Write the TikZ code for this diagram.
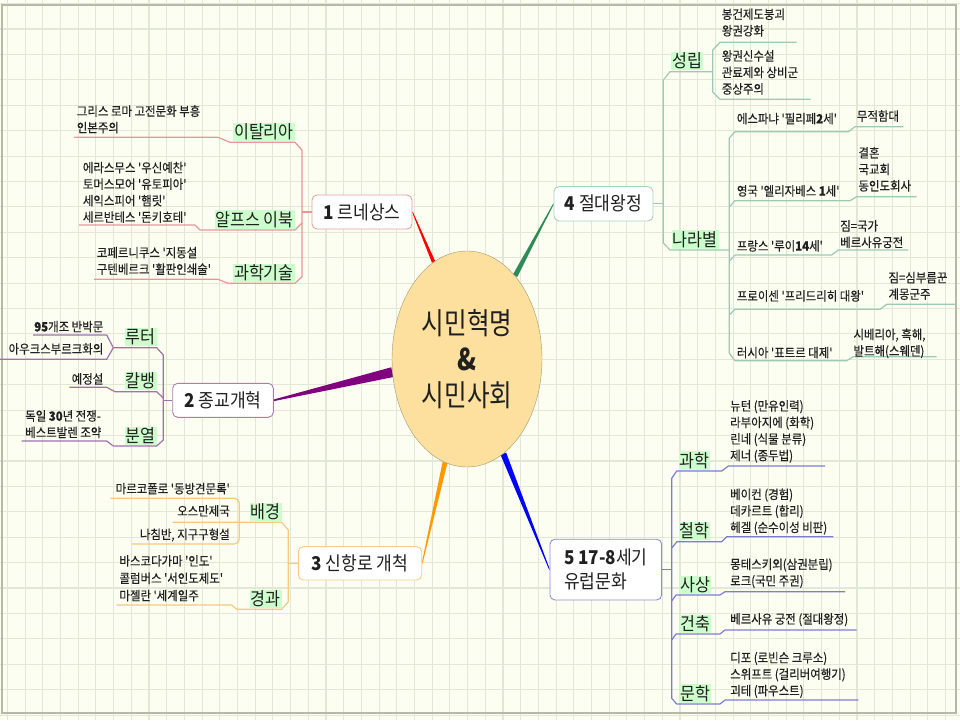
\documentclass[tikz,border=0pt]{standalone}
\usepackage{fontspec}
\newfontfamily\kr[FakeStretch=0.9,Ligatures=TeXOff]{Noto Sans CJK KR}
\newfontfamily\krleaf[FakeStretch=0.9,FakeBold=0.3,Ligatures=TeXOff]{Noto Sans CJK KR}
\newfontfamily\krbig[FakeStretch=0.82,Ligatures=TeXOff]{Noto Sans CJK KR}
\usetikzlibrary{shapes.geometric,calc}
\pgfdeclarelayer{bg}
\pgfdeclarelayer{mid}
\pgfsetlayers{bg,mid,main}

\definecolor{paper}{HTML}{FDFEF2}
\definecolor{gridc}{HTML}{E3E8D6}
\definecolor{framec}{HTML}{B5B9A6}
\definecolor{hl}{HTML}{CCFFCC}
\definecolor{ctrfill}{HTML}{FDE09E}
\definecolor{ctrline}{HTML}{A09870}
\definecolor{ink}{HTML}{202020}
\definecolor{c1}{HTML}{E5A0A0}\definecolor{ln1}{HTML}{E8969A}
\definecolor{c2}{HTML}{A87CB8}\definecolor{ln2}{HTML}{A070B0}
\definecolor{c3}{HTML}{F5CE8C}\definecolor{ln3}{HTML}{F6C880}
\definecolor{c4}{HTML}{A8D2BE}\definecolor{ln4}{HTML}{9CCAB4}
\definecolor{c5}{HTML}{8C8CE0}\definecolor{ln5}{HTML}{7C7CD4}
\definecolor{sp1}{HTML}{FF0000}
\definecolor{sp2}{HTML}{800080}
\definecolor{sp3}{HTML}{FF9900}
\definecolor{sp4}{HTML}{2E8B57}
\definecolor{sp5}{HTML}{0000FF}

% tapered spoke: from, to, half width at start, half width at end, colour
\newcommand{\spoke}[5]{%
  \fill[#5] ($(#1)!#3!90:(#2)$) -- ($(#2)!#4!-90:(#1)$) -- ($(#2)!#4!90:(#1)$) -- ($(#1)!#3!-90:(#2)$) -- cycle;}

\begin{document}
\begin{tikzpicture}[x=1pt,y=-1pt,text=ink,
 topic/.style={draw,rounded corners=5pt,fill=white,line width=.9pt,inner sep=0pt,font=\kr\fontsize{19}{23}\selectfont},
 sub/.style={fill=hl,inner xsep=1pt,inner ysep=1pt,font=\kr\fontsize{18}{20}\selectfont},
 leaf/.style={inner sep=0pt,align=left,font=\krleaf\fontsize{12.7}{16.5}\selectfont},
 br/.style={line width=1.2pt,line join=round}]
\useasboundingbox (0,0) rectangle (960,720);

\begin{pgfonlayer}{bg}
 \fill[paper] (0,0) rectangle (960,720);
 \foreach \i in {0,...,54} \draw[gridc,line width=1.1pt] ({7.4+17.7*\i},0) -- ({7.4+17.7*\i},720);
 \foreach \j in {0,...,28} \draw[gridc,line width=1.1pt] (0,{3.6+25.41*\j}) -- (960,{3.6+25.41*\j});
 \draw[framec,line width=1.2pt] (2,5) rectangle (956,713);
\end{pgfonlayer}

% centre and main topics
\node[ellipse,draw=ctrline,fill=ctrfill,minimum width=150pt,minimum height=216pt,inner sep=0pt,
  align=center,font=\krbig\fontsize{30}{36}\selectfont] (ctr) at (467,359) {시민혁명\\\textbf{\&}\\시민사회};
\node[topic,draw=c1,minimum width=100pt,minimum height=34pt] (ren) at (362,212) {\textbf{1} 르네상스};
\node[topic,draw=c2,minimum width=100.6pt,minimum height=34pt] (rel) at (223,400.3) {\textbf{2} 종교개혁};
\node[topic,draw=c3,minimum width=123.4pt,minimum height=33.3pt] (nav) at (360,563.3) {\textbf{3} 신항로 개척};
\node[topic,draw=c4,minimum width=99pt,minimum height=34.3pt] (abs) at (603.5,203.8) {\textbf{4} 절대왕정};
\node[topic,draw=c5,minimum width=111.7pt,minimum height=60.7pt,align=left,
  font=\kr\fontsize{19}{24}\selectfont] (cul) at (605.8,569.6) {\textbf{5 17-8}세기\\유럽문화};

\begin{pgfonlayer}{mid}
 \spoke{ren.east}{ctr.109}{.4pt}{1.8pt}{sp1}
 \spoke{rel.east}{ctr.190}{.8pt}{5pt}{sp2}
 \spoke{nav.east}{ctr.258}{.4pt}{2.5pt}{sp3}
 \spoke{abs.west}{ctr.60}{.4pt}{2.5pt}{sp4}
 \spoke{cul.west}{ctr.291}{.4pt}{3pt}{sp5}
\end{pgfonlayer}

% 1 르네상스
\draw[br,ln1] (230,142.3) -- (295,142.3) -- (302,150) -- (302,276.7) -- (295,283.3) -- (228,283.3);
\draw[br,ln1] (ren.west) -- (302,212);
\draw[br,ln1] (74,137.3) -- (218,137.3) -- (230,142.3);
\draw[br,ln1] (79,225) -- (195,225) -- (200,230) -- (295,230) -- (302,223);
\draw[br,ln1] (94,279.3) -- (218,279.3) -- (228,283.3);
\node[sub,anchor=south east] (ital) at (295,141.5) {이탈리아};
\node[sub,anchor=south east] (alps) at (295,229) {알프스 이북};
\node[sub,anchor=south east] (tech) at (295,282.5) {과학기술};
\node[leaf,anchor=north west] (ital1) at (76.7,105) {그리스 로마 고전문화 부흥\\인본주의};
\node[leaf,anchor=north west] (alps1) at (82.7,161.7) {에라스무스 '우신예찬'\\토머스모어 '유토피아'\\세익스피어 '햄릿'\\세르반테스 '돈키호테'};
\node[leaf,anchor=north west] (tech1) at (96.7,246.7) {코페르니쿠스 '지동설\\구텐베르크 '활판인쇄술'};

% 2 종교개혁
\draw[br,ln2] (113.3,347.7) -- (156.7,347.7) -- (163.3,355) -- (163.3,440) -- (156.7,446) -- (113.3,446);
\draw[br,ln2] (rel.west) -- (163.3,400.3);
\draw[br,ln2] (33,335) -- (106.7,335) -- (113.3,347.7) -- (106.7,359.3) -- (0,359.3);
\draw[br,ln2] (69.3,387.3) -- (106.7,387.3) -- (115,391.7) -- (156.7,391.7) -- (163.3,398);
\draw[br,ln2] (21.7,441) -- (106.7,441) -- (113.3,446);
\node[sub,anchor=south east] (luth) at (156.7,346.5) {루터};
\node[sub,anchor=south east] (calv) at (156.7,390.5) {칼뱅};
\node[sub,anchor=south east] (split) at (156.7,445) {분열};
\node[leaf,anchor=north east] (luth1) at (103.5,320.7) {\textbf{95}개조 반박문};
\node[leaf,anchor=north east] (luth2) at (103.5,343) {아우크스부르크화의};
\node[leaf,anchor=north east] (calv1) at (103.5,373) {예정설};
\node[leaf,anchor=north west] (split1) at (25,410) {독일 \textbf{30}년 전쟁-\\베스트발렌 조약};

% 3 신항로 개척
\draw[br,ln3] (236.7,609.3) -- (281.7,609.3) -- (288.3,601.7) -- (288.3,530) -- (281.7,522.3) -- (172.7,522.3);
\draw[br,ln3] (nav.west) -- (288.3,563.3);
\draw[br,ln3,rounded corners=5pt] (110.7,498.3) -- (239.3,498.3) -- (239.3,544) -- (131.7,544);
\draw[br,ln3] (116.7,605) -- (231.7,605) -- (236.7,609.3);
\node[sub,anchor=south east] (back) at (281.7,521.5) {배경};
\node[sub,anchor=south east] (course) at (281.7,608.5) {경과};
\node[leaf,anchor=north east] (back1) at (230,482.7) {마르코폴로 '동방견문록'};
\node[leaf,anchor=north east] (back2) at (230,505) {오스만제국};
\node[leaf,anchor=north east] (back3) at (230,528.3) {나침반, 지구구형설};
\node[leaf,anchor=north west,font=\krleaf\fontsize{12.7}{17.3}\selectfont] (course1) at (119.3,555) {바스코다가마 '인도'\\콜럼버스 '서인도제도'\\마젤란 '세계일주};

% 4 절대왕정
\draw[br,ln4] (712.7,71.7) -- (670,71.7) -- (663.3,80) -- (663.3,243) -- (670,250) -- (729.3,250);
\draw[br,ln4] (abs.east) -- (663.3,203.8);
\draw[br,ln4] (796.7,42.3) -- (720,42.3) -- (712.7,50) -- (712.7,92) -- (720,99.3) -- (810.7,99.3);
\draw[br,ln4] (903.3,126.7) -- (855,126.7) -- (848.3,131.7) -- (735,131.7) -- (729.3,138) -- (729.3,353.3) -- (735,360.7) -- (846.7,360.7) -- (853.3,356.7) -- (936.7,356.7);
\draw[br,ln4] (729.3,207) -- (735,200.7) -- (850,200.7) -- (856.7,196.7) -- (916.7,196.7);
\draw[br,ln4] (729.3,261) -- (735,255) -- (831.7,255) -- (838.3,250) -- (908.3,250);
\draw[br,ln4] (729.3,315) -- (735,309.3) -- (880,309.3) -- (886.7,304.3) -- (956.7,304.3);
\node[sub,anchor=south west] (rise) at (671,70.5) {성립};
\node[sub,anchor=south west] (land) at (671.7,249) {나라별};
\node[leaf,anchor=north west] (rise1) at (721.7,8.3) {봉건제도붕괴\\왕권강화};
\node[leaf,anchor=north west] (rise2) at (721.7,50) {왕권신수설\\관료제와 상비군\\중상주의};
\node[leaf,anchor=north west] (spa) at (736.7,112.7) {에스파냐 '필리페\textbf{2}세'};
\node[leaf,anchor=north west] (spa1) at (856.7,110) {무적함대};
\node[leaf,anchor=north west] (eng) at (736.7,185) {영국 '엘리자베스 \textbf{1}세'};
\node[leaf,anchor=north west] (eng1) at (858.3,146.7) {결혼\\국교회\\동인도회사};
\node[leaf,anchor=north west] (fra) at (736.7,240) {프랑스 '루이\textbf{14}세'};
\node[leaf,anchor=north west] (fra1) at (840,220) {짐=국가\\베르사유궁전};
\node[leaf,anchor=north west] (pru) at (736.7,290) {프로이센 '프리드리히 대왕'};
\node[leaf,anchor=north west] (pru1) at (888.3,271.7) {짐=심부름꾼\\계몽군주};
\node[leaf,anchor=north west] (rus) at (736.7,346.7) {러시아 '표트르 대제'};
\node[leaf,anchor=north west] (rus1) at (853.3,328.3) {시베리아, 흑해,\\발트해(스웨덴)};

% 5 17-8세기 유럽문화
\draw[br,ln5] (825,466) -- (728.3,466) -- (721.7,471) -- (676.7,471) -- (671.7,478.3) -- (671.7,698.3) -- (676.7,704) -- (720,704) -- (725,700) -- (858.3,700);
\draw[br,ln5] (cul.east) -- (671.7,569.6);
\draw[br,ln5] (671.7,548) -- (677,541.7) -- (721.7,541.7) -- (726.7,536.7) -- (833.3,536.7);
\draw[br,ln5] (671.7,601) -- (676,595) -- (720,595) -- (725,591.7) -- (845,591.7);
\draw[br,ln5] (671.7,640) -- (676,634) -- (720,634) -- (725,630) -- (856.7,630);
\node[sub,anchor=south west] (sci) at (678.3,470) {과학};
\node[sub,anchor=south west] (phil) at (678.3,540.5) {철학};
\node[sub,anchor=south west] (thou) at (679.3,594) {사상};
\node[sub,anchor=south west] (arch) at (679.3,633) {건축};
\node[sub,anchor=south west] (lit) at (679.3,703) {문학};
\node[leaf,anchor=north west] (sci1) at (730,400) {뉴턴 (만유인력)\\라부아지에 (화학)\\린네 (식물 분류)\\제너 (종두법)};
\node[leaf,anchor=north west] (phil1) at (730,488.3) {베이컨 (경험)\\데카르트 (합리)\\헤겔 (순수이성 비판)};
\node[leaf,anchor=north west] (thou1) at (730,558.3) {몽테스키외(삼권분립)\\로크(국민 주권)};
\node[leaf,anchor=north west] (arch1) at (730,613) {베르사유 궁전 (절대왕정)};
\node[leaf,anchor=north west] (lit1) at (730,651.7) {디포 (로빈슨 크루소)\\스위프트 (걸리버여행기)\\괴테 (파우스트)};
\end{tikzpicture}
\end{document}
